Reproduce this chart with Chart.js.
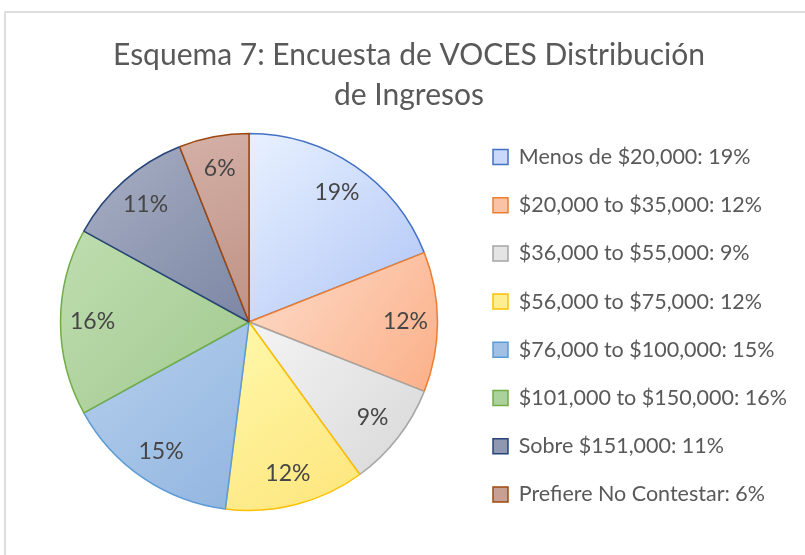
<!DOCTYPE html>
<html>
<head>
<meta charset="utf-8">
<script src="https://cdn.jsdelivr.net/npm/chart.js@4/dist/chart.umd.min.js"></script>
<style>
  html, body { margin: 0; padding: 0; background: #fff; }
  #wrap { position: relative; width: 805px; height: 555px; overflow: hidden; }
  #frame { position: absolute; left: 4px; top: 11px; width: 820px; height: 570px; border: 2px solid #dedede; box-sizing: border-box; }
  canvas { position: absolute; left: 0; top: 0; }
</style>
</head>
<body>
<div id="wrap">
  <div id="frame"></div>
  <canvas id="pie" width="805" height="555"></canvas>
</div>
<script>
// Income distribution data
const titleLines = ['Esquema 7: Encuesta de VOCES Distribución', 'de Ingresos'];
const categories = [
  'Menos de $20,000',
  '$20,000 to $35,000',
  '$36,000 to $55,000',
  '$56,000 to $75,000',
  '$76,000 to $100,000',
  '$101,000 to $150,000',
  'Sobre $151,000',
  'Prefiere No Contestar'
];
const percents = [19, 12, 9, 12, 15, 16, 11, 6];

// Slice colours (gradient light -> dark, plus outline)
const fillLight = ['#e8f1ff', '#fddcca', '#f4f4f4', '#fff8aa', '#b6cfec', '#bfddb0', '#a8afc4', '#d4b0a6'];
const fillDark = ['#b0c5f6', '#fbb089', '#d8d8d8', '#fde57b', '#91b5e0', '#a1c98e', '#7d87a4', '#bf9286'];
const outline = ['#4472c4', '#ed7d31', '#a5a5a5', '#ffc000', '#5b9bd5', '#70ad47', '#264478', '#9e480e'];
const legendFill = ['#c9d8fb', '#fcc2a5', '#e4e4e4', '#ffee90', '#a0c0e5', '#acd29b', '#8f97b1', '#c89f93'];

const textColor = '#595959';
const labelColor = '#464646';
const fontFamily = 'Lato, "Open Sans", sans-serif';

// Gradient fill per slice, based on each arc's bounding box
const sliceGradient = {
  id: 'sliceGradient',
  beforeDatasetsDraw(chart) {
    const ctx = chart.ctx;
    const meta = chart.getDatasetMeta(0);
    meta.data.forEach((arc, i) => {
      const p = arc.getProps(['x', 'y', 'startAngle', 'endAngle', 'outerRadius'], true);
      let x0 = p.x, x1 = p.x, y0 = p.y, y1 = p.y;
      for (let a = p.startAngle; a <= p.endAngle + 0.001; a += 0.02) {
        const px = p.x + p.outerRadius * Math.cos(a);
        const py = p.y + p.outerRadius * Math.sin(a);
        x0 = Math.min(x0, px); x1 = Math.max(x1, px);
        y0 = Math.min(y0, py); y1 = Math.max(y1, py);
      }
      const g = ctx.createLinearGradient(x0, y0, x1, y1);
      g.addColorStop(0, fillLight[i]);
      g.addColorStop(1, fillDark[i]);
      arc.options.backgroundColor = g;
    });
  }
};

// Percent labels inside the slices
const sliceLabels = {
  id: 'sliceLabels',
  afterDatasetsDraw(chart) {
    const ctx = chart.ctx;
    const meta = chart.getDatasetMeta(0);
    ctx.save();
    ctx.font = '23px ' + fontFamily;
    ctx.fillStyle = labelColor;
    ctx.textAlign = 'center';
    ctx.textBaseline = 'middle';
    meta.data.forEach((arc, i) => {
      const p = arc.getProps(['x', 'y', 'startAngle', 'endAngle', 'outerRadius'], true);
      const mid = (p.startAngle + p.endAngle) / 2;
      const r = p.outerRadius * 0.83;
      ctx.fillText(percents[i] + '%', p.x + r * Math.cos(mid), p.y + r * Math.sin(mid));
    });
    ctx.restore();
  }
};

new Chart(document.getElementById('pie'), {
  type: 'pie',
  data: {
    labels: categories,
    datasets: [{
      data: percents,
      backgroundColor: legendFill,
      borderColor: outline,
      borderWidth: 1.5,
      radius: 188.5,
      hoverOffset: 0
    }]
  },
  options: {
    responsive: false,
    animation: false,
    events: [],
    layout: { padding: { left: 31.7, right: 18.7, top: 0, bottom: 20 } },
    plugins: {
      tooltip: { enabled: false },
      title: {
        display: true,
        text: titleLines,
        color: textColor,
        font: { family: fontFamily, size: 30, weight: 'normal', lineHeight: 40 / 30 },
        padding: { top: 35, bottom: -6 }
      },
      legend: {
        position: 'right',
        align: 'start',
        maxWidth: 320,
        title: { display: true, text: '', font: { size: 10, lineHeight: 1 }, padding: { top: 109.55, bottom: 0 } },
        labels: {
          color: textColor,
          font: { family: fontFamily, size: 21.5 },
          boxWidth: 15,
          boxHeight: 15,
          padding: 26.7,
          generateLabels: () => categories.map((c, i) => ({
            text: c + ': ' + percents[i] + '%',
            fillStyle: legendFill[i],
            strokeStyle: outline[i],
            lineWidth: 1.5,
            fontColor: textColor,
            index: i
          }))
        }
      }
    }
  },
  plugins: [sliceGradient, sliceLabels]
});
</script>
</body>
</html>
